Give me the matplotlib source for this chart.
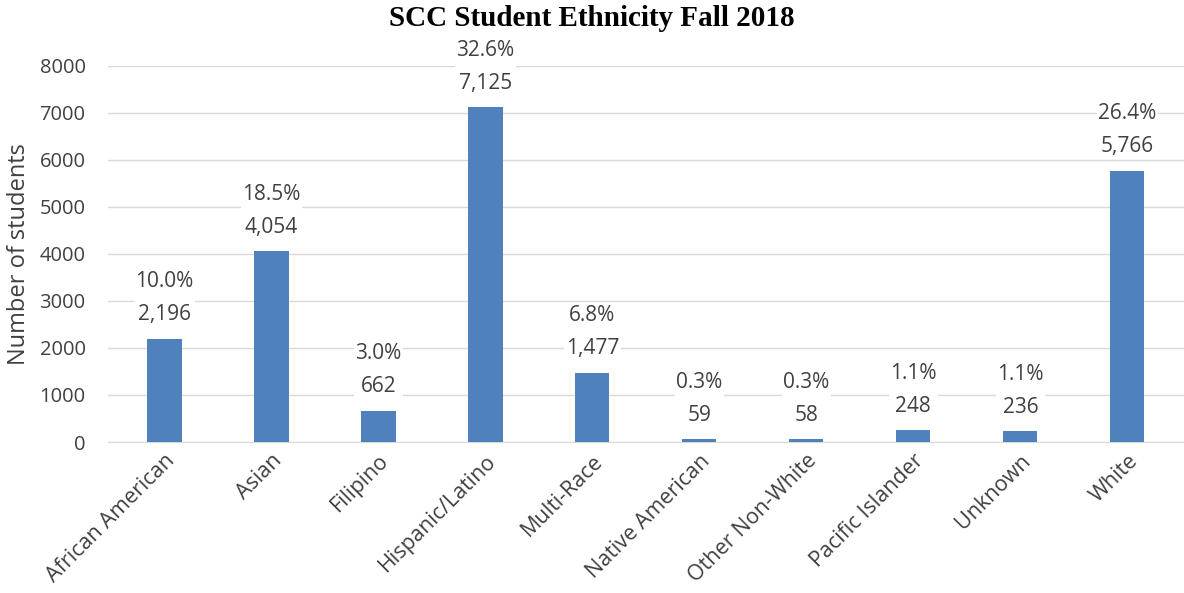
import matplotlib
matplotlib.use('Agg')
import matplotlib.pyplot as plt
import numpy as np

categories = ['African American', 'Asian', 'Filipino', 'Hispanic/Latino', 'Multi-Race',
              'Native American', 'Other Non-White', 'Pacific Islander', 'Unknown', 'White']
counts = [2196, 4054, 662, 7125, 1477, 59, 58, 248, 236, 5766]
percents = ['10.0%', '18.5%', '3.0%', '32.6%', '6.8%', '0.3%', '0.3%', '1.1%', '1.1%', '26.4%']

BAR = '#4F81BD'
TXT = '#404040'
GRID = '#D9D9D9'

fig = plt.figure(figsize=(11.84, 5.93), dpi=100)
ax = fig.add_axes([0.091, 0.2546, 0.909, 0.6344])

x = np.arange(len(categories))
ax.bar(x, counts, width=0.32, color=BAR, zorder=3)

for xi, c, p in zip(x, counts, percents):
    ax.text(xi, c + 285, f'{p}\n{c:,}', ha='center', va='bottom', fontsize=15,
            color=TXT, linespacing=1.75, zorder=4, family='Open Sans',
            bbox=dict(facecolor='white', edgecolor='none', pad=1))

ax.set_xlim(-0.53, len(categories) - 0.47)
ax.set_ylim(0, 8000)
ax.set_yticks(range(0, 8001, 1000))
ax.yaxis.grid(True, color=GRID, linewidth=1, zorder=0)
ax.set_axisbelow(True)
ax.tick_params(axis='y', length=0, labelsize=14.5, labelcolor=TXT, pad=16)
ax.tick_params(axis='x', length=0, labelsize=15.5, labelcolor=TXT, pad=6)
for lab in ax.get_yticklabels():
    lab.set_family('Open Sans')
ax.set_xticks(x)
ax.set_xticklabels(categories, rotation=45, ha='right', rotation_mode='anchor',
                   family='Open Sans')
for s in ['top', 'right', 'left']:
    ax.spines[s].set_visible(False)
ax.spines['bottom'].set_color(GRID)

ax.set_ylabel('Number of students', fontsize=17, color=TXT, family='Open Sans', labelpad=6)
fig.text(0.5, 0.968, 'SCC Student Ethnicity Fall 2018', ha='center', va='center',
         fontsize=21, fontweight='bold', family='Liberation Serif')

plt.savefig('out.png', dpi=100)
plt.close()
